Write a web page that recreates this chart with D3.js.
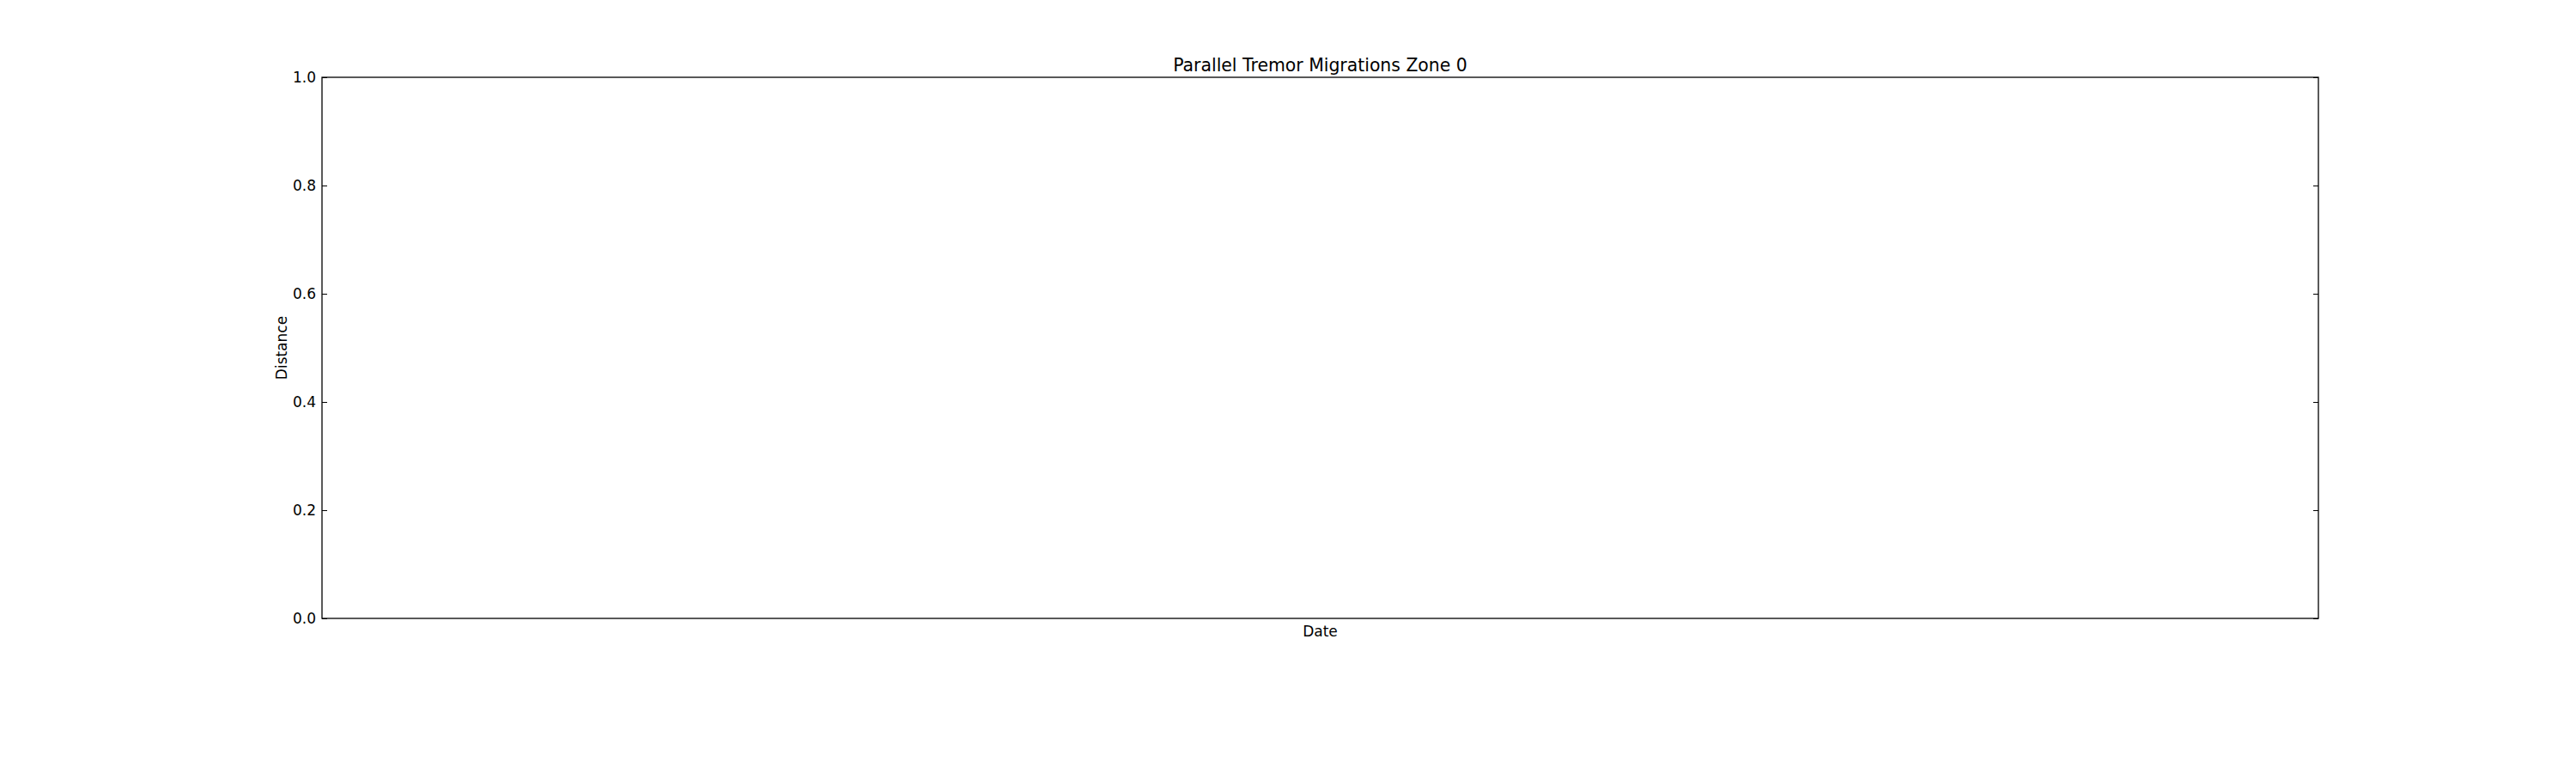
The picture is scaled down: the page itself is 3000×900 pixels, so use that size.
<!DOCTYPE html>
<html>
<head>
<meta charset="utf-8">
<script src="https://cdn.jsdelivr.net/npm/d3@7/dist/d3.min.js"></script>
<style>
  html, body { margin: 0; padding: 0; background: #ffffff; }
  svg { display: block; }
  text { font-family: "DejaVu Sans", sans-serif; fill: #000; }
</style>
</head>
<body>
<script>
// ---- data ----
const chartTitle = "Parallel Tremor Migrations Zone 0";
const xLabel = "Date";
const yLabel = "Distance";
const dates = [];        // no migrations in this zone
const distances = [];    // no migrations in this zone
const yTickValues = [0.0, 0.2, 0.4, 0.6, 0.8, 1.0];
const yDomain = [0, 1];

// ---- layout ----
const W = 3000, H = 900;
const mLeft = 375, mRight = 2700, mTop = 90, mBottom = 720;

const svg = d3.select("body").append("svg")
  .attr("width", W).attr("height", H);

svg.append("rect").attr("width", W).attr("height", H).attr("fill", "#fff");

const x = d3.scaleLinear().domain([0, 1]).range([mLeft, mRight]);
const y = d3.scaleLinear().domain(yDomain).range([mBottom, mTop]);

// data marks (none)
svg.append("g").selectAll("circle")
  .data(dates.map((d, i) => [d, distances[i]]))
  .join("circle")
  .attr("cx", d => x(d[0])).attr("cy", d => y(d[1])).attr("r", 3);

// left axis: inward ticks, labels outside
const leftAxis = d3.axisLeft(y).tickValues(yTickValues)
  .tickFormat(d3.format(".1f")).tickSizeInner(-6).tickSizeOuter(0).tickPadding(13);
const gl = svg.append("g").attr("transform", `translate(${mLeft},0)`).call(leftAxis);
gl.select(".domain").remove();
gl.selectAll(".tick line").attr("stroke", "#000").attr("stroke-width", 1);
gl.selectAll(".tick text").attr("font-size", "17px").attr("dy", "0.35em").attr("x", -7)
  .attr("font-family", "DejaVu Sans").attr("fill", "#000");

// right axis: inward ticks, no labels
const rightAxis = d3.axisRight(y).tickValues(yTickValues)
  .tickFormat("").tickSizeInner(-6).tickSizeOuter(0);
const gr = svg.append("g").attr("transform", `translate(${mRight},0)`).call(rightAxis);
gr.select(".domain").remove();
gr.selectAll(".tick line").attr("stroke", "#000").attr("stroke-width", 1);

// bottom axis without ticks
const gb = svg.append("g").attr("transform", `translate(0,${mBottom})`)
  .call(d3.axisBottom(x).tickValues([]).tickSizeOuter(0));
gb.select(".domain").remove();

// frame
svg.append("rect")
  .attr("x", mLeft).attr("y", mTop)
  .attr("width", mRight - mLeft).attr("height", mBottom - mTop)
  .attr("fill", "none").attr("stroke", "#000").attr("stroke-width", 1.3);

// title
svg.append("text")
  .attr("x", (mLeft + mRight) / 2).attr("y", 83)
  .attr("text-anchor", "middle").attr("font-size", "20.4px")
  .text(chartTitle);

// x label
svg.append("text")
  .attr("x", (mLeft + mRight) / 2).attr("y", 741)
  .attr("text-anchor", "middle").attr("font-size", "17px")
  .text(xLabel);

// y label
svg.append("text")
  .attr("transform", `translate(334,${(mTop + mBottom) / 2}) rotate(-90)`)
  .attr("text-anchor", "middle").attr("font-size", "17px")
  .text(yLabel);
</script>
</body>
</html>
